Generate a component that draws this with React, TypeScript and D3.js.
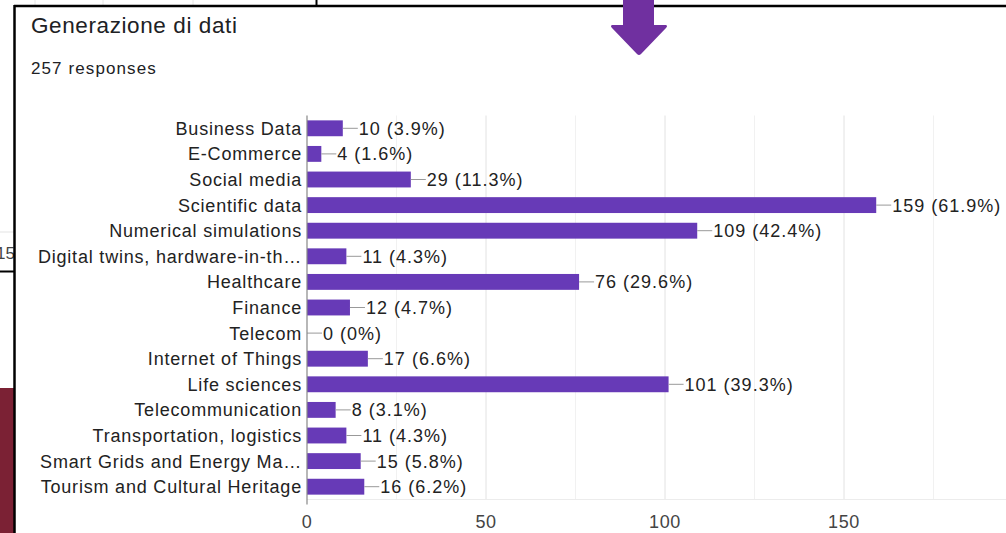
import React from "react";
import * as d3 from "d3";

const categories = [
  "Business Data",
  "E-Commerce",
  "Social media",
  "Scientific data",
  "Numerical simulations",
  "Digital twins, hardware-in-th…",
  "Healthcare",
  "Finance",
  "Telecom",
  "Internet of Things",
  "Life sciences",
  "Telecommunication",
  "Transportation, logistics",
  "Smart Grids and Energy Ma…",
  "Tourism and Cultural Heritage",
];
const values = [10, 4, 29, 159, 109, 11, 76, 12, 0, 17, 101, 8, 11, 15, 16];
const totalResponses = 257;
const xTicks = [0, 50, 100, 150, 200];
const gridTicks = [25, 50, 75, 100, 125, 150, 175, 200];
const title = "Generazione di dati";
const subtitle = "257 responses";

const W = 1006;
const H = 533;
const FONT = "'Liberation Sans', Arial, Helvetica, sans-serif";

export default function App() {
  const x = d3.scaleLinear().domain([0, 200]).range([307, 1023]);
  const y = d3.scaleBand<string>().domain(categories).range([115.5, 499.5]).paddingInner(0.38).paddingOuter(0.19);
  const pct = d3.format(".1f");
  const fmtPct = (v: number) => {
    const p = (v / totalResponses) * 100;
    return v === 0 ? "0%" : pct(p) + "%";
  };
  const [plotTop, plotBottom] = y.range();

  return (
    <svg width={W} height={H} style={{ position: "absolute", left: 0, top: 0, background: "#fff" }}>
      <rect x={0} y={0} width={W} height={H} fill="#fff" />
      {/* left strip artifacts */}
      <line x1={0} x2={14} y1={232} y2={232} stroke="#e3e3e3" strokeWidth={1} />
      <text x={-4} y={259} fontFamily={FONT} fontSize={17} fill="#444">15</text>
      <line x1={0} x2={14} y1={271.5} y2={271.5} stroke="#000" strokeWidth={2} />
      <rect x={0} y={388} width={14} height={H - 388} fill="#7b2134" />
      {/* top artifacts */}
      <line x1={35} x2={35} y1={0} y2={5} stroke="#e6e6e6" />
      <line x1={103} x2={103} y1={0} y2={5} stroke="#e6e6e6" />
      <line x1={193} x2={193} y1={0} y2={5} stroke="#e6e6e6" />
      <line x1={316.5} x2={316.5} y1={0} y2={6} stroke="#000" strokeWidth={2} />
      {/* border */}
      <line x1={14.5} x2={14.5} y1={5} y2={H} stroke="#000" strokeWidth={2.5} />
      <line x1={14} x2={W} y1={6} y2={6} stroke="#000" strokeWidth={2.5} />

      {/* title */}
      <text x={31} y={33} fontFamily={FONT} fontSize={22.5} letterSpacing={0.6} fill="#202124">{title}</text>
      <text x={31} y={74} fontFamily={FONT} fontSize={17} letterSpacing={1.1} fill="#202124">{subtitle}</text>

      {/* grid */}
      {gridTicks.map((t) => (
        <line key={"g" + t} x1={x(t)} x2={x(t)} y1={plotTop} y2={plotBottom}
          stroke={t % 50 === 0 ? "#e2e2e2" : "#f1f1f1"} strokeWidth={1} />
      ))}
      <line x1={x(0)} x2={W} y1={plotBottom} y2={plotBottom} stroke="#ececec" />

      {/* bars */}
      {categories.map((c, i) => {
        const yy = y(c)!;
        const bw = y.bandwidth();
        const cy = yy + bw / 2;
        const xe = x(values[i]);
        return (
          <g key={c}>
            <rect x={x(0)} y={yy} width={xe - x(0)} height={bw} fill="#673ab7" />
            <text x={302} y={cy} dy="0.36em" textAnchor="end" fontFamily={FONT} fontSize={18} letterSpacing={0.8} fill="#222">{c}</text>
            <line x1={xe} x2={xe + 15} y1={cy} y2={cy} stroke="#999" strokeWidth={1} />
            <text x={xe + 16} y={cy} dy="0.36em" fontFamily={FONT} fontSize={18} letterSpacing={1} fill="#222">
              {values[i] + " (" + fmtPct(values[i]) + ")"}
            </text>
          </g>
        );
      })}
      <line x1={x(0)} x2={x(0)} y1={plotTop} y2={plotBottom + 5} stroke="#888" strokeWidth={1.2} />

      {/* x ticks */}
      {xTicks.map((t) => (
        <text key={"t" + t} x={x(t)} y={528} textAnchor="middle" fontFamily={FONT} fontSize={18} letterSpacing={0.6} fill="#444">{t}</text>
      ))}

      {/* arrow */}
      <path d="M623,0 L654,0 L654,25 L666,25 Q668,26 666,28 L641,54 Q639,56 637,54 L612,28 Q610,26 612,25 L623,25 Z" fill="#7030a0" />
    </svg>
  );
}
